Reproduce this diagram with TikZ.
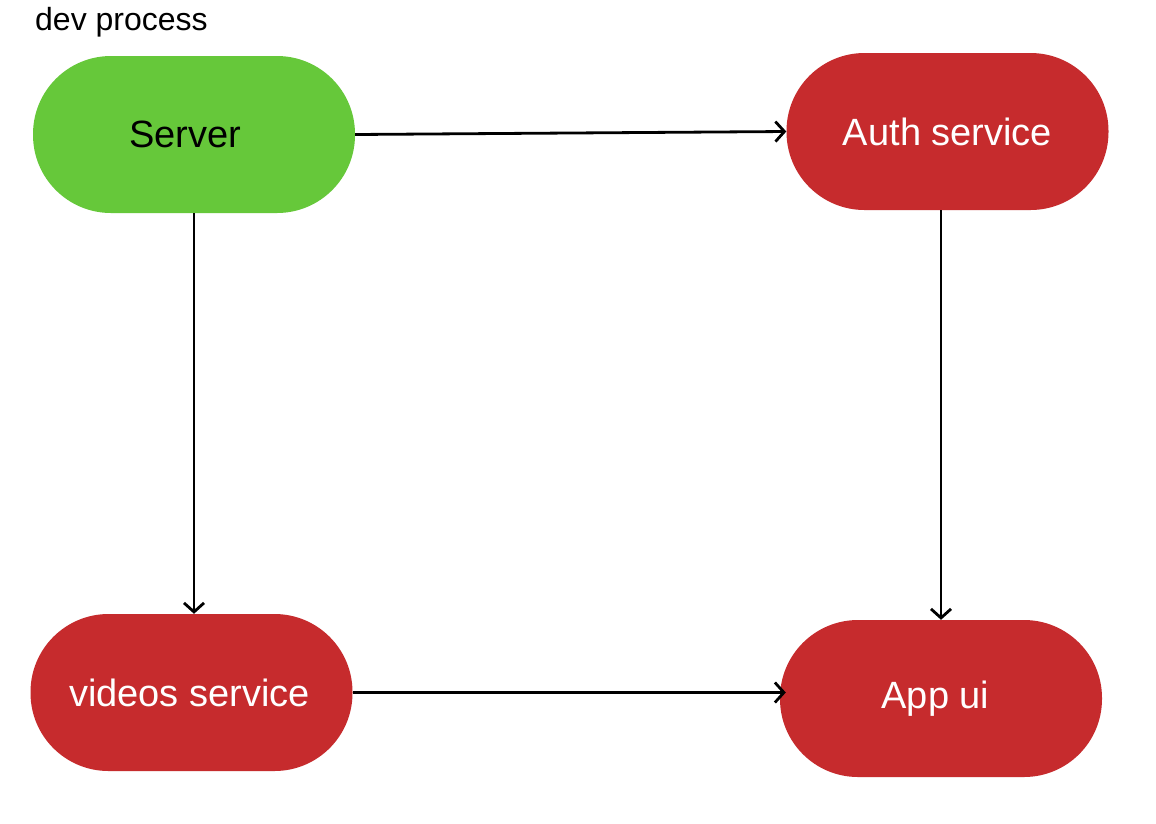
\documentclass[tikz,border=0pt]{standalone}
\usepackage{fontspec}
\setmainfont{Liberation Sans}
\usetikzlibrary{arrows.meta}
\definecolor{pillgreen}{HTML}{66C83A}
\definecolor{pillred}{HTML}{C62B2D}
\tikzset{
  pill/.style={rectangle, rounded corners=78pt, minimum width=322pt, minimum height=157pt, inner sep=0pt, font=\fontsize{38}{42}\selectfont},
  greenpill/.style={pill, fill=pillgreen, text=black},
  redpill/.style={pill, fill=pillred, text=white},
  conn/.style={line width=2.8pt, -{Straight Barb[length=9pt,width=20pt,line width=2.8pt]}},
}
\begin{document}
\begin{tikzpicture}[x=1pt,y=-1pt]
\useasboundingbox[fill=white] (0,0) rectangle (1156,823);
\node[anchor=base west, font=\fontsize{32}{36}\selectfont, inner sep=0pt] (title) at (35,30) {dev process};
\node[greenpill] (server) at (194,134.5) {\hspace*{-18pt}Server};
\node[redpill] (auth) at (947.5,131.5) {\raisebox{-4pt}{Auth service}};
\node[redpill] (videos) at (191.5,692.5) {\hspace*{-4pt}videos service};
\node[redpill] (app) at (941,698.5) {\hspace*{-11pt}App ui};
\draw[conn] (server.east) -- (auth.west);
\draw[conn] (server.south) -- (server.south |- videos.north);
\draw[conn] (app.north |- auth.south) -- (app.north);
\draw[conn] (videos.east) -- ([xshift=6pt]videos.east -| app.west);
\end{tikzpicture}
\end{document}
